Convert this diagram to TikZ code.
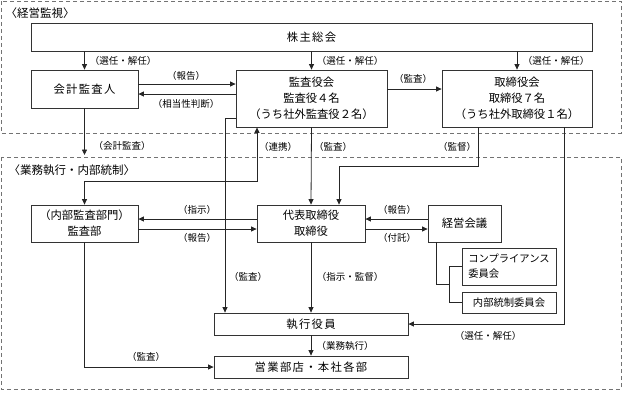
\documentclass[tikz,border=0pt]{standalone}
\usepackage{fontspec}
\setmainfont{Noto Sans CJK JP}
\usetikzlibrary{arrows.meta}
\begin{document}
\begin{tikzpicture}[x=1pt,y=-1pt,
  box/.style={draw=black!80,line width=0.8pt,align=center,inner sep=0pt,
    font=\fontsize{11.3}{16}\selectfont},
  wide/.style={font=\fontsize{11.3}{16}\selectfont\addfontfeature{LetterSpace=12}},
  small/.style={font=\fontsize{10.3}{15}\selectfont},
  lab/.style={font=\fontsize{9.5}{11}\selectfont,inner sep=0pt},
  ttl/.style={font=\fontsize{11.5}{13}\selectfont,inner sep=0pt},
  arr/.style={draw=black!85,line width=0.8pt,-{Triangle[length=5.5pt,width=5pt]}},
  darr/.style={draw=black!85,line width=0.8pt,{Triangle[length=5.5pt,width=5pt]}-{Triangle[length=5.5pt,width=5pt]}},
  ln/.style={draw=black!85,line width=0.8pt},
  frame/.style={draw=black!55,line width=0.8pt,dash pattern=on 4pt off 3pt},
]
\useasboundingbox (0,0) rectangle (623,392);

% frames
\draw[frame] (1,1) rectangle (621,133);
\draw[frame] (1,157) rectangle (621,389);
\node[ttl] (t1) at (40,13) {〈経営監視〉};
\node[ttl] (t2) at (72,170) {〈業務執行・内部統制〉};

% boxes
\node[box,wide,minimum width=561pt,minimum height=28pt] (sh) at (311.5,37) {株主総会};
\node[box,wide,minimum width=107pt,minimum height=38pt] (kaikei) at (84.5,89) {会計監査人};
\node[box,minimum width=151pt,minimum height=57pt] (kansa) at (311.5,98.5) {監査役会\\監査役４名\\（うち社外監査役２名）};
\node[box,minimum width=150pt,minimum height=57pt] (tori) at (517,98.5) {取締役会\\取締役７名\\（うち社外取締役１名）};
\node[box,minimum width=107pt,minimum height=37pt] (kbu) at (84.5,223.5) {（内部監査部門）\\監査部};
\node[box,minimum width=108pt,minimum height=37pt] (daihyo) at (311,223.5) {代表取締役\\取締役};
\node[box,minimum width=73pt,minimum height=37pt] (keiei) at (464.5,223.5) {経営会議};
\node[box,small,align=left,minimum width=94pt,minimum height=37pt] (comp) at (509,266.5) {コンプライアンス\\委員会};
\node[box,small,minimum width=94pt,minimum height=21pt] (naibu) at (509,302.5) {内部統制委員会};
\node[box,wide,minimum width=194pt,minimum height=22pt] (shikko) at (311,324) {執行役員};
\node[box,wide,minimum width=194pt,minimum height=22pt] (eigyo) at (311,367) {営業部店・本社各部};

% shareholders' meeting arrows
\draw[arr] (kaikei.north |- sh.south) -- (kaikei.north);
\draw[arr] (kansa.north |- sh.south) -- (kansa.north);
\draw[arr] (tori.north |- sh.south) -- (tori.north);
\node[lab] (l1) at (123,61) {（選任・解任）};
\node[lab] (l2) at (350,61) {（選任・解任）};
\node[lab] (l3) at (556,61) {（選任・解任）};

% auditor <-> board of auditors
\draw[arr] ([yshift=5pt]kaikei.east) -- ([yshift=5pt]kaikei.east -| kansa.west);
\draw[arr] ([yshift=-5pt]kaikei.east -| kansa.west) -- ([yshift=-5pt]kaikei.east);
\node[lab] (l4) at (186,76) {（報告）};
\node[lab] (l5) at (186,104) {（相当性判断）};

% board of auditors -> board of directors
\draw[arr] ([yshift=9.5pt]kansa.east) -- ([yshift=9.5pt]tori.west);
\node[lab] (l6) at (413,79) {（監査）};

% accounting audit
\coordinate (kaend) at (84.5,155);
\draw[arr] (kaikei.south) -- (kaend);
\node[lab] (l7) at (122,146) {（会計監査）};

% cooperation
\draw[darr] (kbu.north) -- ++(0,-23) -| ([xshift=-54.5pt]kansa.south);
\node[lab] (l8) at (278,147) {（連携）};

% audit to executive officers
\draw[arr] ([yshift=-19.5pt]kansa.west) -| ([xshift=-86pt]shikko.north);
\node[lab] (l9) at (248,277) {（監査）};

% audit to representative director
\draw[arr] (kansa.south) -- (daihyo.north);
\node[lab] (l10) at (333,147) {（監査）};

% supervision
\draw[arr] ([xshift=-39pt]tori.south) -- ++(0,39) -| ([xshift=28pt]daihyo.north);
\node[lab] (l11) at (457,147) {（監督）};

% appointment of executive officers
\draw[arr] ([xshift=47pt]tori.south) |- (shikko.east);
\node[lab] (l12) at (488,336) {（選任・解任）};

% audit dept <-> representative director
\draw[arr] ([yshift=4.5pt]daihyo.west) -- ([yshift=4.5pt]daihyo.west -| kbu.east);
\draw[arr] ([yshift=-5.5pt]kbu.east) -- ([yshift=-5.5pt]kbu.east -| daihyo.west);
\node[lab] (l13) at (197,210) {（指示）};
\node[lab] (l14) at (197,238) {（報告）};

% representative director <-> management meeting
\draw[arr] ([yshift=4.5pt]keiei.west) -- ([yshift=4.5pt]keiei.west -| daihyo.east);
\draw[arr] ([yshift=-5.5pt]daihyo.east) -- ([yshift=-5.5pt]daihyo.east -| keiei.west);
\node[lab] (l15) at (397,210) {（報告）};
\node[lab] (l16) at (397,238) {（付託）};

% committees bracket
\coordinate (brk) at (449,284);
\draw[ln] ([xshift=-28.5pt]keiei.south) |- (brk);
\draw[ln] (comp.west) -| (brk);
\draw[ln] (naibu.west) -| (brk);

% direction and supervision
\draw[arr] (daihyo.south) -- (shikko.north);
\node[lab] (l17) at (350,277) {（指示・監督）};

% business execution
\draw[arr] (shikko.south) -- (eigyo.north);
\node[lab] (l18) at (345,346) {（業務執行）};

% internal audit
\draw[arr] (kbu.south) |- (eigyo.west);
\node[lab] (l19) at (146,357) {（監査）};
\end{tikzpicture}
\end{document}
